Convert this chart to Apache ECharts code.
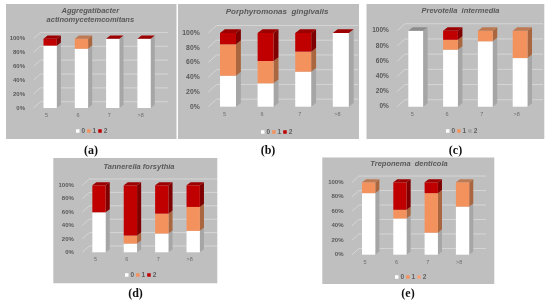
<!DOCTYPE html>
<html><head><meta charset="utf-8">
<style>html,body{margin:0;padding:0;background:#fff}#c{width:550px;height:304px;filter:blur(0.45px)}</style>
<script src="https://cdn.jsdelivr.net/npm/echarts@6/dist/echarts.min.js"></script>
</head><body><div id="c"></div>
<script>
const categories = ['5','6','7','>8'];
const legendNames = ['0','1','2'];
const yTicks = [0,20,40,60,80,100];

// null = the series has no segment in this bar; 0 = an empty segment that still shows its cap
const aZero = [90,85.5,100,100], aOne = [null,14.5,null,null], aTwo = [10,null,0,0];
const bZero = [42,31.7,47.5,100], bOne = [42.6,30.3,27.2,null], bTwo = [15.4,38,25.3,0];
const cZero = [100,75,86,64], cOne = [null,13,14,36], cTwo = [null,12,null,null];
const dZero = [59.7,13,28,32], dOne = [null,12,29.7,35.7], dTwo = [40.3,75,42.3,32.3];
const eZero = [85,50,30.4,66.4], eOne = [15,12,54.6,33.6], eTwo = [null,38,15,null];

const titleA = 'Aggregatibacter\nactinomycetemcomitans';
const titleB = 'Porphyromonas  gingivalis';
const titleC = 'Prevotella  intermedia';
const titleD = 'Tannerella forsythia';
const titleE = 'Treponema  denticola';

const WHITE = {front:'#ffffff', side:'#a6a6a6', top:'#8c8c8c'};
const ORANGE = {front:'#f4925e', side:'#a9663f', top:'#bd7a52'};
const RED = {front:'#c00000', side:'#7f0000', top:'#9c0000'};

const panels = [
 {key:'a',title:titleA,vals:[aZero,aOne,aTwo],box:[6,4,170.5,135],plot:[34.5,38.7,125.2,69.3],wallR:168,cap:[91,150.5],titleC:[90.3,6.5],legP:[76,127.5],fs:6,ts:7.5,leg:['#fff','#f4925e','#c00000'],seg:[WHITE,ORANGE,RED]},
 {key:'b',title:titleB,vals:[bZero,bOne,bTwo],box:[178,4,181,135],plot:[209.2,33,150.4,73.7],wallR:358,cap:[268,150.5],titleC:[277,7],legP:[261,128.5],fs:6.8,ts:8,leg:['#fff','#f4925e','#c00000'],seg:[WHITE,ORANGE,RED]},
 {key:'c',title:titleC,vals:[cZero,cOne,cTwo],box:[366.5,4,177.8,135],plot:[398.3,30.7,139.2,76],wallR:543,cap:[455.5,150.5],titleC:[460.5,6],legP:[446,127.5],fs:6.5,ts:7.5,leg:['#fff','#f4925e','#a5a5a5'],seg:[WHITE,ORANGE,RED]},
 {key:'d',title:titleD,vals:[dZero,dOne,dTwo],box:[53.3,158,164,125.3],plot:[83.3,185.3,125.6,67],wallR:217,cap:[135.5,294],titleC:[139,162.5],legP:[125,271.5],fs:6,ts:7.5,leg:['#fff','#f4925e','#c00000'],seg:[WHITE,ORANGE,RED]},
 {key:'e',title:titleE,vals:[eZero,eOne,eTwo],box:[322.3,157.5,172,126.5],plot:[353,182.3,125.2,72.4],wallR:486,cap:[408,294],titleC:[409,159],legP:[395,273.5],fs:6,ts:7.5,leg:['#fff','#f4925e','#f7a57c'],seg:[WHITE,ORANGE,RED]}
];

const grid=[],xAxis=[],yAxis=[],series=[],legend=[],title=[],graphic=[];

function boxRender(pal){
  return function(params, api){
    const cat = api.value(0), base = api.value(1), v = api.value(2);
    const bandW = api.size([1,0])[0];
    const w = bandW*0.425, dx = bandW*0.13, dy = bandW*0.1;
    const pb = api.coord([cat, base]), pt = api.coord([cat, base+v]);
    const l = pb[0]-w/2, r = pb[0]+w/2;
    const kids = [];
    if (v>0){
      kids.push({type:'polygon',shape:{points:[[r,pb[1]],[r+dx,pb[1]-dy],[r+dx,pt[1]-dy],[r,pt[1]]]},style:{fill:pal.side}});
      kids.push({type:'rect',shape:{x:l,y:pt[1],width:w,height:pb[1]-pt[1]},style:{fill:pal.front}});
    }
    if (api.value(3)===1){
      kids.push({type:'polygon',shape:{points:[[l,pt[1]],[l+dx,pt[1]-dy],[r+dx,pt[1]-dy],[r,pt[1]]]},style:{fill:pal.top}});
    }
    return {type:'group',children:kids};
  };
}
function wallRender(wallR){
  return function(params, api){
    const p = api.coord([0,api.value(0)]);
    const s = api.size([1,0])[0];
    const cs = params.coordSys;
    const dx = s*0.22, dy = s*0.2;
    return {type:'polyline',shape:{points:[[cs.x-1,p[1]],[cs.x-1+dx,p[1]-dy],[wallR,p[1]-dy]]},
            style:{fill:null,stroke:'#d6d6d6',lineWidth:1}};
  };
}

panels.forEach((pn,i)=>{
  graphic.push({type:'rect',z:-10,shape:{x:pn.box[0],y:pn.box[1],width:pn.box[2],height:pn.box[3]},style:{fill:'#bfbfbf'}});
  grid.push({left:pn.plot[0],top:pn.plot[1],width:pn.plot[2],height:pn.plot[3]});
  xAxis.push({type:'category',gridIndex:i,data:categories,axisLine:{show:false},axisTick:{show:false},
    axisLabel:{color:'#6e6e6e',fontSize:5.5,margin:4.5,padding:[0,7,0,0],fontFamily:'Liberation Sans'}});
  yAxis.push({type:'value',gridIndex:i,min:0,max:100,interval:20,axisLine:{show:false},axisTick:{show:false},splitLine:{show:false},
    axisLabel:{formatter:'{value}%',color:'#595959',fontSize:pn.fs,fontWeight:'bold',margin:9.5,padding:[5,0,0,0],fontFamily:'Liberation Sans'}});
  series.push({type:'custom',name:'wall'+i,xAxisIndex:i,yAxisIndex:i,silent:true,z:1,clip:false,
    encode:{x:-1,y:0},data:yTicks.map(t=>[t]),renderItem:wallRender(pn.wallR)});
  const base=[0,0,0,0];
  pn.vals.forEach((arr,si)=>{
    const data = arr.map((v,ci)=>{
      let top = 1;
      for(let k=si+1;k<pn.vals.length;k++) if(pn.vals[k][ci]!==null) top=0;
      const row = v===null ? [ci,base[ci],0,0] : [ci,base[ci],v,top];
      base[ci]+= v||0;
      return row;
    });
    series.push({type:'custom',name:legendNames[si],xAxisIndex:i,yAxisIndex:i,silent:true,z:2+si,clip:false,
      encode:{x:0,y:[1,2]},data,renderItem:boxRender(pn.seg[si]),itemStyle:{color:pn.leg[si]}});
  });
  legend.push({show:true,left:pn.legP[0],top:pn.legP[1],orient:'horizontal',icon:'rect',itemWidth:3.5,itemHeight:3.5,itemGap:2,padding:0,
    selectedMode:false,textStyle:{color:'#5f5f5f',fontSize:6.5,fontWeight:'bold',fontFamily:'Liberation Sans',padding:[0,0,0,-3]},
    data:legendNames.map((n,k)=>({name:n,itemStyle:{color:pn.leg[k]}}))});
  title.push({text:pn.title,left:pn.titleC[0],top:pn.titleC[1],textAlign:'center',padding:0,
    textStyle:{color:'#595959',fontSize:pn.ts,lineHeight:9,fontWeight:'bold',fontStyle:'italic',fontFamily:'Liberation Sans'}});
  title.push({text:'('+pn.key+')',left:pn.cap[0],top:pn.cap[1]-6,textAlign:'center',padding:0,
    textStyle:{color:'#111',fontSize:12,fontWeight:'bold',fontFamily:'Liberation Serif'}});
});

const chart = echarts.init(document.getElementById('c'),null,{renderer:'canvas'});
chart.setOption({animation:false,backgroundColor:'#fff',tooltip:{show:false},grid,xAxis,yAxis,series,legend,title,graphic:{elements:graphic}});
</script></body></html>
